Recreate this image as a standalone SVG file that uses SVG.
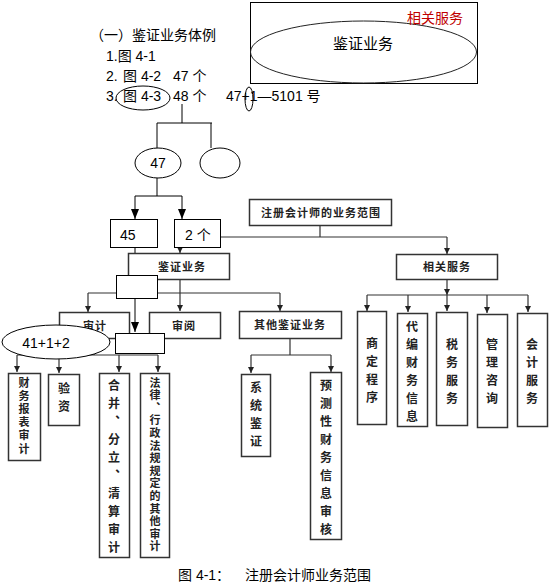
<svg xmlns="http://www.w3.org/2000/svg" width="553" height="585" viewBox="0 0 553 585">
<style>
.t{font-family:"Liberation Sans","Noto Sans CJK SC",sans-serif;font-size:14px;fill:#000}
.b{font-family:"Noto Sans CJK SC",sans-serif;font-size:11px;font-weight:bold;fill:#222;letter-spacing:1px}
.v{font-family:"Noto Sans CJK SC",sans-serif;font-size:12px;font-weight:bold;fill:#222;writing-mode:vertical-rl;letter-spacing:6px}
.vs{font-family:"Noto Sans CJK SC",sans-serif;font-size:11px;font-weight:bold;fill:#222;writing-mode:vertical-rl}
.box{fill:#fff;stroke:#333;stroke-width:1.5}
.pl{fill:#fff;stroke:#000;stroke-width:1}
.ln{fill:none;stroke:#000;stroke-width:1}
.g{fill:none;stroke:#333;stroke-width:1.2}
</style>
<defs>
<marker id="as" markerUnits="userSpaceOnUse" markerWidth="6" markerHeight="6" refX="6" refY="3" orient="auto" viewBox="0 0 6 6"><path d="M0,0 L6,3 L0,6 Z" fill="#222"/></marker>
<marker id="ab2" markerUnits="userSpaceOnUse" markerWidth="10" markerHeight="8" refX="10" refY="4" orient="auto" viewBox="0 0 10 8"><path d="M0,0 L10,4 L0,8 Z" fill="#000"/></marker>
</defs>

<g id="header">
<text class="t" x="90" y="40">（一）</text>
<text class="t" x="132" y="40">鉴证业务体例</text>
<text class="t" x="106" y="61">1.图 4-1</text>
<text class="t" x="106" y="81">2.</text>
<text class="t" x="123" y="81">图 4-2</text>
<text class="t" x="173" y="81">47 个</text>
<text class="t" x="106" y="101">3.</text>
<text class="t" x="123" y="101">图 4-3</text>
<text class="t" x="173" y="101">48 个</text>
<text class="t" x="226" y="101">47+1—5101 号</text>
<ellipse class="ln" cx="143" cy="98" rx="27" ry="12"/>
<ellipse class="ln" cx="249" cy="99" rx="4" ry="12"/>
</g>

<g id="venn">
<rect x="250.5" y="2.5" width="227" height="81" fill="none" stroke="#000" stroke-width="1"/>
<ellipse cx="363.5" cy="52" rx="113" ry="31" fill="none" stroke="#222" stroke-width="1"/>
<text x="407" y="23" font-family="Liberation Sans,'Noto Sans CJK SC',sans-serif" font-size="14" fill="#c00000">相关服务</text>
<text x="363" y="49" font-family="Liberation Sans,'Noto Sans CJK SC',sans-serif" font-size="15" fill="#000" text-anchor="middle">鉴证业务</text>
</g>

<g id="connectors">
<path class="ln" d="M182,104 V123 M157,123 H212 M157,123 V148 M211,123 V148"/>
<path class="ln" d="M157,178 V196 M135,196 H182"/>
<path class="ln" d="M135,196 V219" marker-end="url(#ab2)"/>
<path class="ln" d="M182,196 V219" marker-end="url(#ab2)"/>
<path class="ln" d="M135,247 V268" marker-end="url(#ab2)"/>
<path class="g" d="M180,247 V253" marker-end="url(#as)"/>
<path class="g" d="M220,237 H447 M320,225 V237"/>
<path class="g" d="M447,237 V254" marker-end="url(#as)"/>
<path class="g" d="M447,279 V295" marker-end="url(#as)"/>
<path class="g" d="M367,295 H528"/>
<path class="g" d="M367,295 V311" marker-end="url(#as)"/>
<path class="g" d="M408,295 V312" marker-end="url(#as)"/>
<path class="g" d="M447,295 V311" marker-end="url(#as)"/>
<path class="g" d="M487,295 V313" marker-end="url(#as)"/>
<path class="g" d="M528,295 V312" marker-end="url(#as)"/>
<path class="g" d="M180,279 V311" marker-end="url(#as)"/>
<path class="g" d="M88,293 H280"/>
<path class="g" d="M88,293 V312" marker-end="url(#as)"/>
<path class="g" d="M280,293 V311" marker-end="url(#as)"/>
<path class="ln" d="M135,298 V332" marker-end="url(#ab2)"/>
<path class="g" d="M94,338 V355 M17,355 H158"/>
<path class="g" d="M17,355 V372" marker-end="url(#as)"/>
<path class="g" d="M59,355 V373" marker-end="url(#as)"/>
<path class="g" d="M119,355 V372" marker-end="url(#as)"/>
<path class="g" d="M158,355 V372" marker-end="url(#as)"/>
<path class="g" d="M290,338 V355 M251,355 H331"/>
<path class="g" d="M251,355 V373" marker-end="url(#as)"/>
<path class="g" d="M331,355 V372" marker-end="url(#as)"/>
</g>

<g id="e47"><ellipse class="pl" cx="158" cy="163" rx="23" ry="15"/><text class="t" x="158" y="168" text-anchor="middle">47</text></g>
<g id="eEmpty"><ellipse class="pl" cx="220" cy="163" rx="20" ry="15"/></g>

<g id="n45"><rect class="pl" x="110.5" y="219.5" width="47" height="28"/><text class="t" x="120" y="240">45</text></g>
<g id="n2"><rect class="pl" x="174.5" y="219.5" width="46" height="28"/><text class="t" x="185" y="240">2 个</text></g>

<g id="nScope"><rect class="box" x="249.5" y="199.5" width="142" height="26"/><text class="b" x="321" y="216.5" text-anchor="middle">注册会计师的业务范围</text></g>
<g id="nRelated"><rect class="box" x="396.5" y="254.5" width="101" height="25"/><text class="b" x="447" y="271" text-anchor="middle">相关服务</text></g>
<g id="nAssurance"><rect class="box" x="128.5" y="253.5" width="101" height="26"/><text class="b" x="182" y="270.5" text-anchor="middle">鉴证业务</text></g>
<g id="nAudit"><rect class="box" x="59.5" y="312.5" width="70" height="26"/><text class="b" x="95" y="330" text-anchor="middle">审计</text></g>
<g id="nReview"><rect class="box" x="149.5" y="312.5" width="71" height="26"/><text class="b" x="184" y="329.5" text-anchor="middle">审阅</text></g>
<g id="nOther"><rect class="box" x="239.5" y="311.5" width="102" height="27"/><text class="b" x="290" y="329" text-anchor="middle">其他鉴证业务</text></g>

<g id="w1"><rect class="pl" x="116.5" y="275.5" width="41" height="23"/></g>
<g id="e41"><ellipse class="pl" cx="56" cy="342" rx="54" ry="17"/><text class="t" x="46" y="348" text-anchor="middle">41+1+2</text></g>
<g id="w2"><rect class="pl" x="115.5" y="333.5" width="49" height="20"/></g>

<g id="nFin"><rect class="box" x="8.5" y="373.5" width="32" height="87"/>
<text class="vs" x="24" y="377" style="letter-spacing:2.2px">财务报表审计</text></g>
<g id="nCap"><rect class="box" x="48.5" y="374.5" width="31" height="51"/>
<text class="v" x="64" y="382">验资</text></g>
<g id="nMerge"><rect class="box" x="99.5" y="373.5" width="30" height="184"/>
<text class="v" x="114" y="379">合并、分立、清算审计</text></g>
<g id="nLaw"><rect class="box" x="140.5" y="373.5" width="29" height="184"/>
<text class="vs" x="155" y="377" style="letter-spacing:1.6px">法律、行政法规规定的其他审计</text></g>

<g id="nSys"><rect class="box" x="241.5" y="374.5" width="29" height="82"/>
<text class="v" x="256" y="381">系统鉴证</text></g>
<g id="nForecast"><rect class="box" x="310.5" y="372.5" width="31" height="167"/>
<text class="v" x="326" y="379">预测性财务信息审核</text></g>

<g id="nAgreed"><rect class="box" x="357.5" y="311.5" width="29" height="113"/>
<text class="v" x="372" y="337">商定程序</text></g>
<g id="nCompile"><rect class="box" x="397.5" y="313.5" width="30" height="113"/>
<text class="v" x="412" y="320">代编财务信息</text></g>
<g id="nTax"><rect class="box" x="436.5" y="312.5" width="31" height="113"/>
<text class="v" x="452" y="338">税务服务</text></g>
<g id="nMgmt"><rect class="box" x="477.5" y="314.5" width="30" height="113"/>
<text class="v" x="492" y="338">管理咨询</text></g>
<g id="nAcct"><rect class="box" x="517.5" y="313.5" width="30" height="113"/>
<text class="v" x="532" y="338">会计服务</text></g>

<g id="caption"><text class="t" x="178" y="580">图 4-1：</text><text class="t" x="245" y="580">注册会计师业务范围</text></g>
</svg>
